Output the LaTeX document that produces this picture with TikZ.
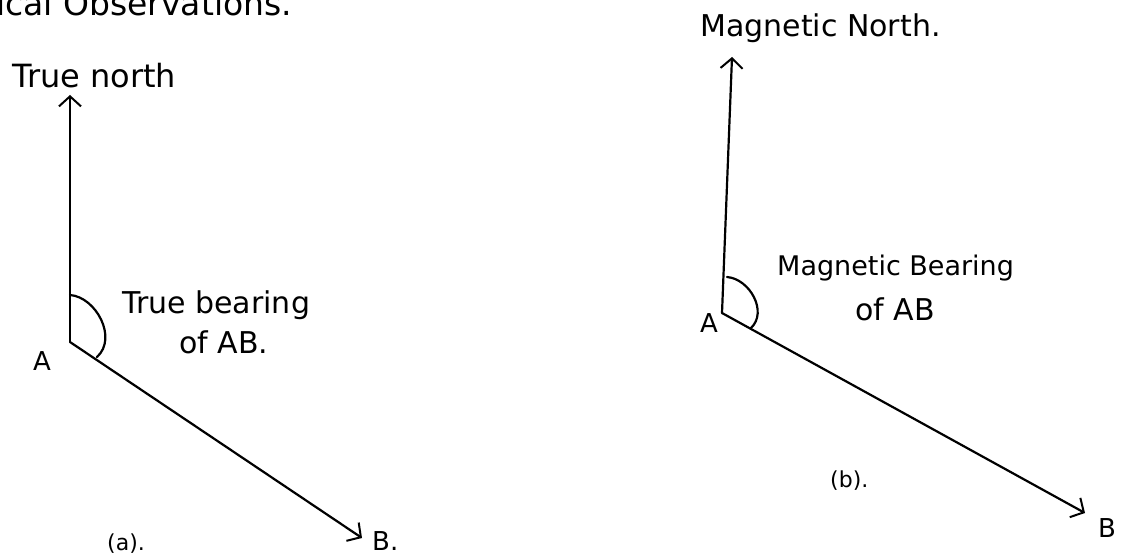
\documentclass[tikz,border=0pt]{standalone}
\usepackage{fontspec}
\setmainfont{DejaVu Sans}
\usetikzlibrary{arrows.meta}
\tikzset{
  hand/.style={line width=2.2pt, line cap=round, line join=round},
  vec/.style={hand, -{Straight Barb[length=10pt,width=22pt,line width=2pt]}},
  lbl/.style={inner sep=0pt, anchor=base west, font=\fontsize{30}{34}\selectfont},
  fs/.style={font=\fontsize{#1}{#1}\selectfont},
  small/.style={inner sep=0pt, anchor=base west, font=\fontsize{22}{26}\selectfont}
}
\begin{document}
\begin{tikzpicture}[x=1pt,y=-1pt]
\useasboundingbox (0,0) rectangle (1126,556);
\clip (0,0) rectangle (1126,556);
% title fragment
\node[lbl, fs=33] (title) at (-4,16) {ical Observations.};
% (a)
\coordinate (A1) at (70,342);
\coordinate (N1) at (70,95);
\coordinate (B1) at (362,538);
\draw[vec] (A1) -- (N1);
\draw[vec] (A1) -- (B1);
\draw[hand] (70,295) .. controls (96,297) and (118,338) .. (97,357);
\node[lbl, fs=32] (tn) at (12,88) {True north};
\node[lbl] (tb) at (122,313) {True bearing};
\node[lbl] (ofab1) at (179,353) {of AB.};
\node[small, fs=26] (la1) at (33,370) {A};
\node[small] (capa) at (107,550) {(a).};
\node[small, fs=26] (lb1) at (372,550) {B.};
% (b)
\coordinate (A2) at (722,313);
\coordinate (N2) at (732,57);
\coordinate (B2) at (1085,513);
\draw[vec] (A2) -- (N2);
\draw[vec] (A2) -- (B2);
\draw[hand] (727,277) .. controls (750,279) and (768,312) .. (751,328);
\node[lbl] (mn) at (700,37) {Magnetic North.};
\node[lbl, fs=27] (mb) at (777,275) {Magnetic Bearing};
\node[lbl] (ofab2) at (855,320) {of AB};
\node[small, fs=26] (la2) at (700,332) {A};
\node[small] (capb) at (830,487) {(b).};
\node[small, fs=26] (lb2) at (1098,537) {B};
\end{tikzpicture}
\end{document}
